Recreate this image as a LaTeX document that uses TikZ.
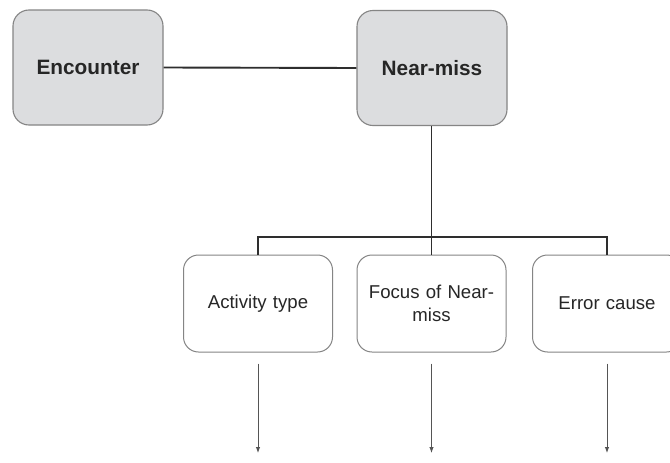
\documentclass[tikz,border=0pt]{standalone}
\usepackage{fontspec}
\setmainfont{Liberation Sans}
\usetikzlibrary{arrows.meta}
\definecolor{boxgray}{HTML}{DCDDDF}
\definecolor{edgegray}{HTML}{858585}
\definecolor{linedark}{HTML}{2E2E2E}
\definecolor{arrowgray}{HTML}{555555}
\tikzset{
  topbox/.style={draw=edgegray, line width=1.1pt, fill=boxgray, rounded corners=16pt,
    minimum width=150pt, minimum height=115pt, inner sep=0pt,
    font=\fontsize{20.8}{24}\selectfont\bfseries, text=black!85},
  subbox/.style={draw=edgegray, line width=1pt, fill=white, rounded corners=15pt,
    minimum width=149pt, minimum height=97pt, inner sep=0pt, align=center,
    text width=140pt, font=\fontsize{18.6}{23}\selectfont, text=black!85},
  link/.style={draw=linedark, line width=1.9pt},
  flow/.style={draw=arrowgray, line width=0.9pt, -{Latex[length=6pt,width=4.5pt]}}
}
\begin{document}
\begin{tikzpicture}[x=1pt,y=-1pt]
  \useasboundingbox (0,0) rectangle (670,463);
  \clip (0,0) rectangle (670,463);
  \fill[white] (0,0) rectangle (670,463);

  % top row
  \node[topbox] (enc) at (88,67.5) {Encounter};
  \node[topbox] (nm) at (432,68) {Near-miss};

  % second row
  \node[subbox] (act) at (258,303.5) {Activity type};
  \node[subbox] (foc) at (431.5,303.5) {Focus of Near-\\miss};
  \node[subbox] (err) at (607,303.5) {Error cause};

  % tree connectors
  \coordinate (bus) at (431.5,237);
  \draw[link] (enc.east) -- (nm.west);
  \draw[link] (nm.south -| bus) -- (bus);
  \draw[link] (act.north) |- (bus) -| (err.north);
  \draw[link] (bus) -- (foc.north);

  % outgoing arrows
  \coordinate (actend) at (258,453);
  \coordinate (focend) at (431.5,453);
  \coordinate (errend) at (607,453);
  \draw[flow] ([yshift=-11pt]act.south) -- (actend);
  \draw[flow] ([yshift=-11pt]foc.south) -- (focend);
  \draw[flow] ([yshift=-11pt]err.south) -- (errend);
\end{tikzpicture}
\end{document}
